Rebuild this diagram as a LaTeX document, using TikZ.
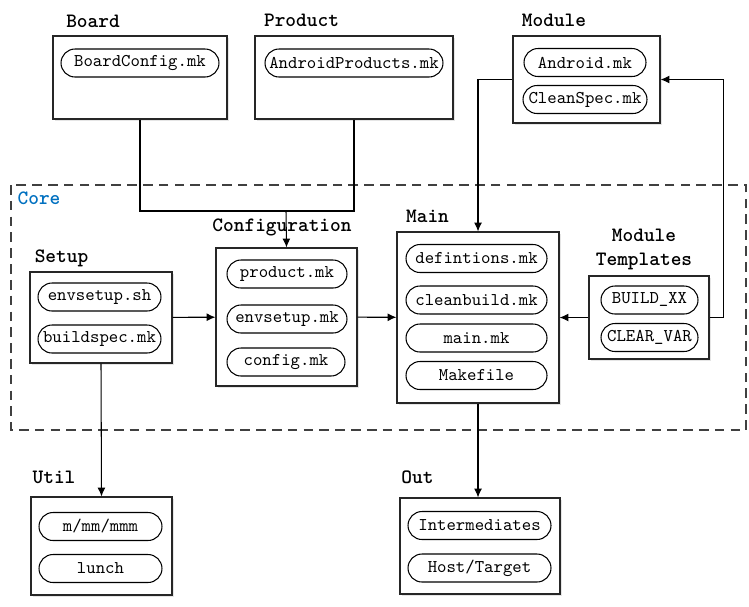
\documentclass[tikz,border=0pt]{standalone}
\usepackage{fontspec}
\usetikzlibrary{arrows.meta,fit,shadows}
\definecolor{coreblue}{RGB}{0,112,192}

\begin{document}
\begin{tikzpicture}[x=0.02cm, y=-0.02cm, line width=0.6pt,
  grp/.style={draw=black!85, line width=0.65pt, fill=white, inner sep=0pt,
    drop shadow={fill=black!20, opacity=0.5, shadow xshift=1.4pt, shadow yshift=-1.4pt}},
  pill/.style={draw, fill=white, rounded corners=0.28cm, minimum height=0.56cm, inner sep=1pt, font=\ttfamily\fontsize{10.2}{12}\selectfont},
  lbl/.style={font=\ttfamily\bfseries\fontsize{11.6}{14}\selectfont, inner sep=0pt, align=center},
  arr/.style={-{Latex[length=5pt, width=4.5pt]}}]
\useasboundingbox (0,0) rectangle (749,606);
\draw[black!75, dash pattern=on 5.5pt off 3.5pt] (11,185) rectangle (746,430);
\node[lbl, text=coreblue] (corelbl) at (39,198) {Core};

\node[grp, fit={(53,36) (227,119)}] (board) {};
\node[grp, fit={(255,36) (453,119)}] (product) {};
\node[grp, fit={(513,36) (660,123)}] (module) {};
\node[grp, fit={(30,272) (172,363)}] (setup) {};
\node[grp, fit={(216,248) (357,386)}] (config) {};
\node[grp, fit={(397,232) (559,403)}] (main) {};
\node[grp, fit={(589,276) (709,359)}] (tmpl) {};
\node[grp, fit={(31,497) (172,595)}] (util) {};
\node[grp, fit={(400,498) (560,594)}] (out) {};

\node[lbl] (boardlbl) at (93,21) {Board};
\node[lbl] (productlbl) at (301.5,20) {Product};
\node[lbl] (modulelbl) at (554,20) {Module};
\node[lbl] (setuplbl) at (61.5,258) {Setup};
\node[lbl] (configlbl) at (282,227) {Configuration};
\node[lbl] (mainlbl) at (427.5,216) {Main};
\node[lbl] (tmpllbl) at (644,249.5) {Module\\Templates};
\node[lbl] (utillbl) at (54,477) {Util};
\node[lbl] (outlbl) at (417.5,477) {Out};

\node[pill, minimum width=3.16cm] (boardcfg) at (140,63) {BoardConfig.mk};
\node[pill, minimum width=3.56cm] (products) at (354,63) {AndroidProducts.mk};
\node[pill, minimum width=2.44cm] (androidmk) at (585,62.5) {Android.mk};
\node[pill, minimum width=2.48cm] (cleanspec) at (585,99.5) {CleanSpec.mk};
\node[pill, minimum width=2.46cm] (envsh) at (99.5,297) {envsetup.sh};
\node[pill, minimum width=2.46cm] (buildspec) at (99.5,339) {buildspec.mk};
\node[pill, minimum width=2.4cm] (productmk) at (287,274) {product.mk};
\node[pill, minimum width=2.4cm] (envmk) at (287,319) {envsetup.mk};
\node[pill, minimum width=2.36cm] (configmk) at (286,362) {config.mk};
\node[pill, minimum width=2.82cm] (defs) at (476.5,258.5) {defintions.mk};
\node[pill, minimum width=2.82cm] (cleanbuild) at (476.5,300) {cleanbuild.mk};
\node[pill, minimum width=2.82cm] (mainmk) at (476.5,338) {main.mk};
\node[pill, minimum width=2.82cm] (makefile) at (476.5,375.5) {Makefile};
\node[pill, minimum width=1.94cm] (buildxx) at (649.5,300) {BUILD\_XX};
\node[pill, minimum width=1.94cm] (clearvar) at (649.5,337.5) {CLEAR\_VAR};
\node[pill, minimum width=2.46cm] (mmm) at (100.5,526.5) {m/mm/mmm};
\node[pill, minimum width=2.46cm] (lunch) at (100.5,568.5) {lunch};
\node[pill, minimum width=2.86cm] (inter) at (479.5,525.5) {Intermediates};
\node[pill, minimum width=2.86cm] (hosttgt) at (479.5,568) {Host/Target};

\coordinate (join) at (286,211);
\draw (board.south) |- (join) -| (product.south);
\draw[arr] (join) -- (config.north);
\draw[arr] (module.west) -| (main.north);
\draw[arr] (tmpl.east) -- ++(14,0) |- (module.east);
\draw[arr] (setup) -- (config);
\draw[arr] (config) -- (main);
\draw[arr] (tmpl) -- (main);
\draw[arr] (setup.south) -- (util.north);
\draw[arr] (main.south) -- (main.south |- out.north);
\end{tikzpicture}
\end{document}
